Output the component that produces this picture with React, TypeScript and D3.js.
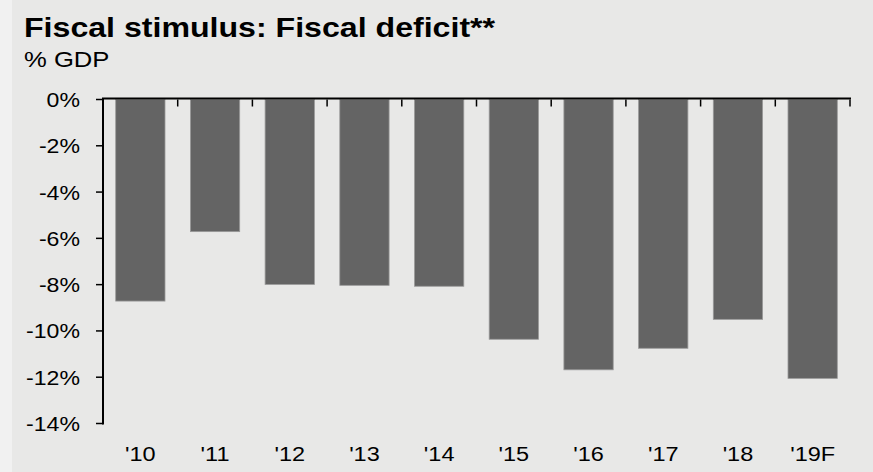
import React from "react";
import * as d3 from "d3";

const categories = ["'10", "'11", "'12", "'13", "'14", "'15", "'16", "'17", "'18", "'19F"];
const values = [-8.71, -5.71, -7.99, -8.03, -8.07, -10.36, -11.68, -10.75, -9.5, -12.05];
const yTicks = [0, -2, -4, -6, -8, -10, -12, -14];

const W = 873;
const H = 472;
const left = 103;
const right = 850;
const top = 99.5;
const bottom = 423.5;
const FONT = "'Liberation Sans', Arial, sans-serif";

function T(props: { x: number; y: number; sx: number; size: number; anchor?: string; bold?: boolean; dy?: string; children: React.ReactNode }) {
  return (
    <g transform={`translate(${props.x},${props.y}) scale(${props.sx},1)`}>
      <text
        x={0}
        y={0}
        dy={props.dy}
        textAnchor={props.anchor || "start"}
        fontFamily={FONT}
        fontWeight={props.bold ? "bold" : "normal"}
        fontSize={props.size}
        fill="#000"
      >
        {props.children}
      </text>
    </g>
  );
}

export default function App() {
  const x = d3.scaleBand<string>().domain(categories).range([left, right]).paddingInner(0.34).paddingOuter(0.17);
  const xb = d3.scaleBand<string>().domain(categories).range([left, right]);
  const y = d3.scaleLinear().domain([0, -14]).range([top, bottom]);

  return (
    <svg width={W} height={H} style={{ position: "absolute", left: 0, top: 0 }}>
      <rect x={0} y={0} width={W} height={H} fill="#e8e8e7" />
      <rect x={0} y={0} width={12} height={H} fill="#f1f1f1" />
      <T x={24} y={37} sx={1.19} size={27} bold>
        Fiscal stimulus: Fiscal deficit**
      </T>
      <T x={24} y={67} sx={1.14} size={22.5}>
        % GDP
      </T>
      {categories.map((c, i) => (
        <rect
          key={c}
          x={x(c)!}
          y={y(0)}
          width={x.bandwidth()}
          height={y(values[i]) - y(0)}
          fill="#646464"
          stroke="#9a9a9a"
          strokeWidth={0.8}
        />
      ))}
      {/* y axis */}
      <line x1={left} x2={left} y1={top - 1} y2={bottom + 1} stroke="#000" strokeWidth={2} />
      {yTicks.map((t) => (
        <g key={t}>
          <line x1={left - 7} x2={left} y1={y(t)} y2={y(t)} stroke="#000" strokeWidth={1.5} />
          <T x={80} y={y(t)} dy="0.36em" anchor="end" sx={1.1} size={21}>
            {t}%
          </T>
        </g>
      ))}
      {/* x axis at top */}
      <line x1={left - 1} x2={right + 1} y1={top - 1} y2={top - 1} stroke="#000" strokeWidth={2} />
      {categories.map((c) => (
        <line key={"t" + c} x1={xb(c)! + xb.bandwidth()} x2={xb(c)! + xb.bandwidth()} y1={top} y2={top + 7} stroke="#000" strokeWidth={1.5} />
      ))}
      {categories.map((c) => (
        <T key={"l" + c} x={xb(c)! + xb.bandwidth() / 2} y={461} anchor="middle" sx={1.12} size={21}>
          {c}
        </T>
      ))}
    </svg>
  );
}
